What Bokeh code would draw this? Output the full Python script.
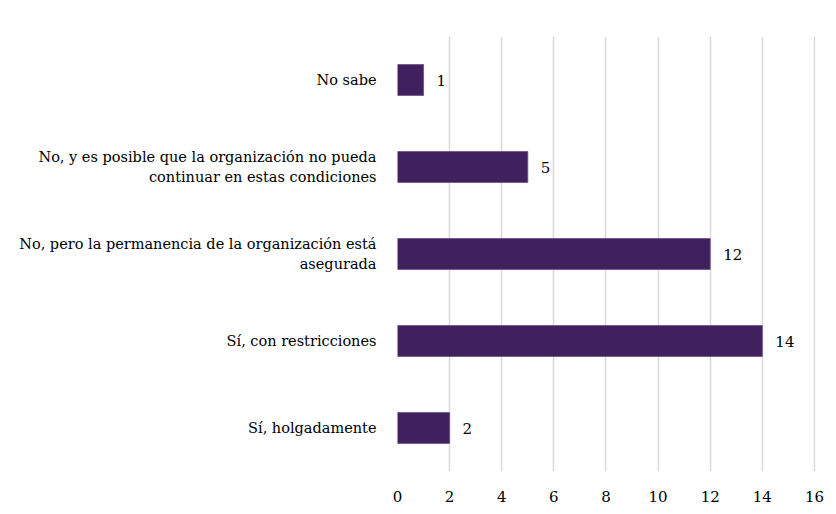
from bokeh.plotting import figure
from bokeh.models import ColumnDataSource, FactorRange, Range1d, FixedTicker
from bokeh.embed import file_html
from bokeh.resources import INLINE
from bokeh.core.properties import value

categories = [
    "Sí, holgadamente",
    "Sí, con restricciones",
    "No, pero la permanencia de la organización está\nasegurada",
    "No, y es posible que la organización no pueda\ncontinuar en estas condiciones",
    "No sabe",
]
counts = [2, 14, 12, 5, 1]
x_ticks = [0, 2, 4, 6, 8, 10, 12, 14, 16]

FONT = "DejaVu Serif"
BAR = "#40215E"

src = ColumnDataSource(dict(cat=categories, n=counts, lab=[str(c) for c in counts]))

p = figure(
    width=828, height=508,
    y_range=FactorRange(*categories, range_padding=0),
    x_range=Range1d(0, 16.04),
    output_backend="svg", toolbar_location=None,
    min_border_left=397, min_border_top=36, min_border_right=13, min_border_bottom=37,
)
p.outline_line_color = None
p.background_fill_color = "white"
p.border_fill_color = "white"

p.hbar(y="cat", right="n", left=0, height=0.355, source=src,
       fill_color=BAR, line_color="#6a4c86", line_width=0.8)
p.text(x="n", y="cat", text="lab", source=src, x_offset=13,
       text_align="left", text_baseline="middle",
       text_font=value(FONT), text_font_size="15px", text_color="#000000")

p.xaxis.ticker = FixedTicker(ticks=x_ticks)
p.xaxis.axis_line_color = None
p.xaxis.major_tick_line_color = None
p.xaxis.minor_tick_line_color = None
p.xaxis.major_label_text_font = FONT
p.xaxis.major_label_text_font_size = "15px"
p.xaxis.major_label_text_color = "#000000"
p.xaxis.major_label_standoff = 13

p.yaxis.axis_line_color = None
p.yaxis.major_tick_line_color = None
p.yaxis.major_label_text_font = FONT
p.yaxis.major_label_text_font_size = "14.5px"
p.yaxis.major_label_text_color = "#000000"
p.yaxis.major_label_standoff = 15

p.xgrid.grid_line_color = "#d9d9d9"
p.xgrid.grid_line_width = 1.5
p.ygrid.grid_line_color = None

open("out.html", "w").write(file_html(p, INLINE))
